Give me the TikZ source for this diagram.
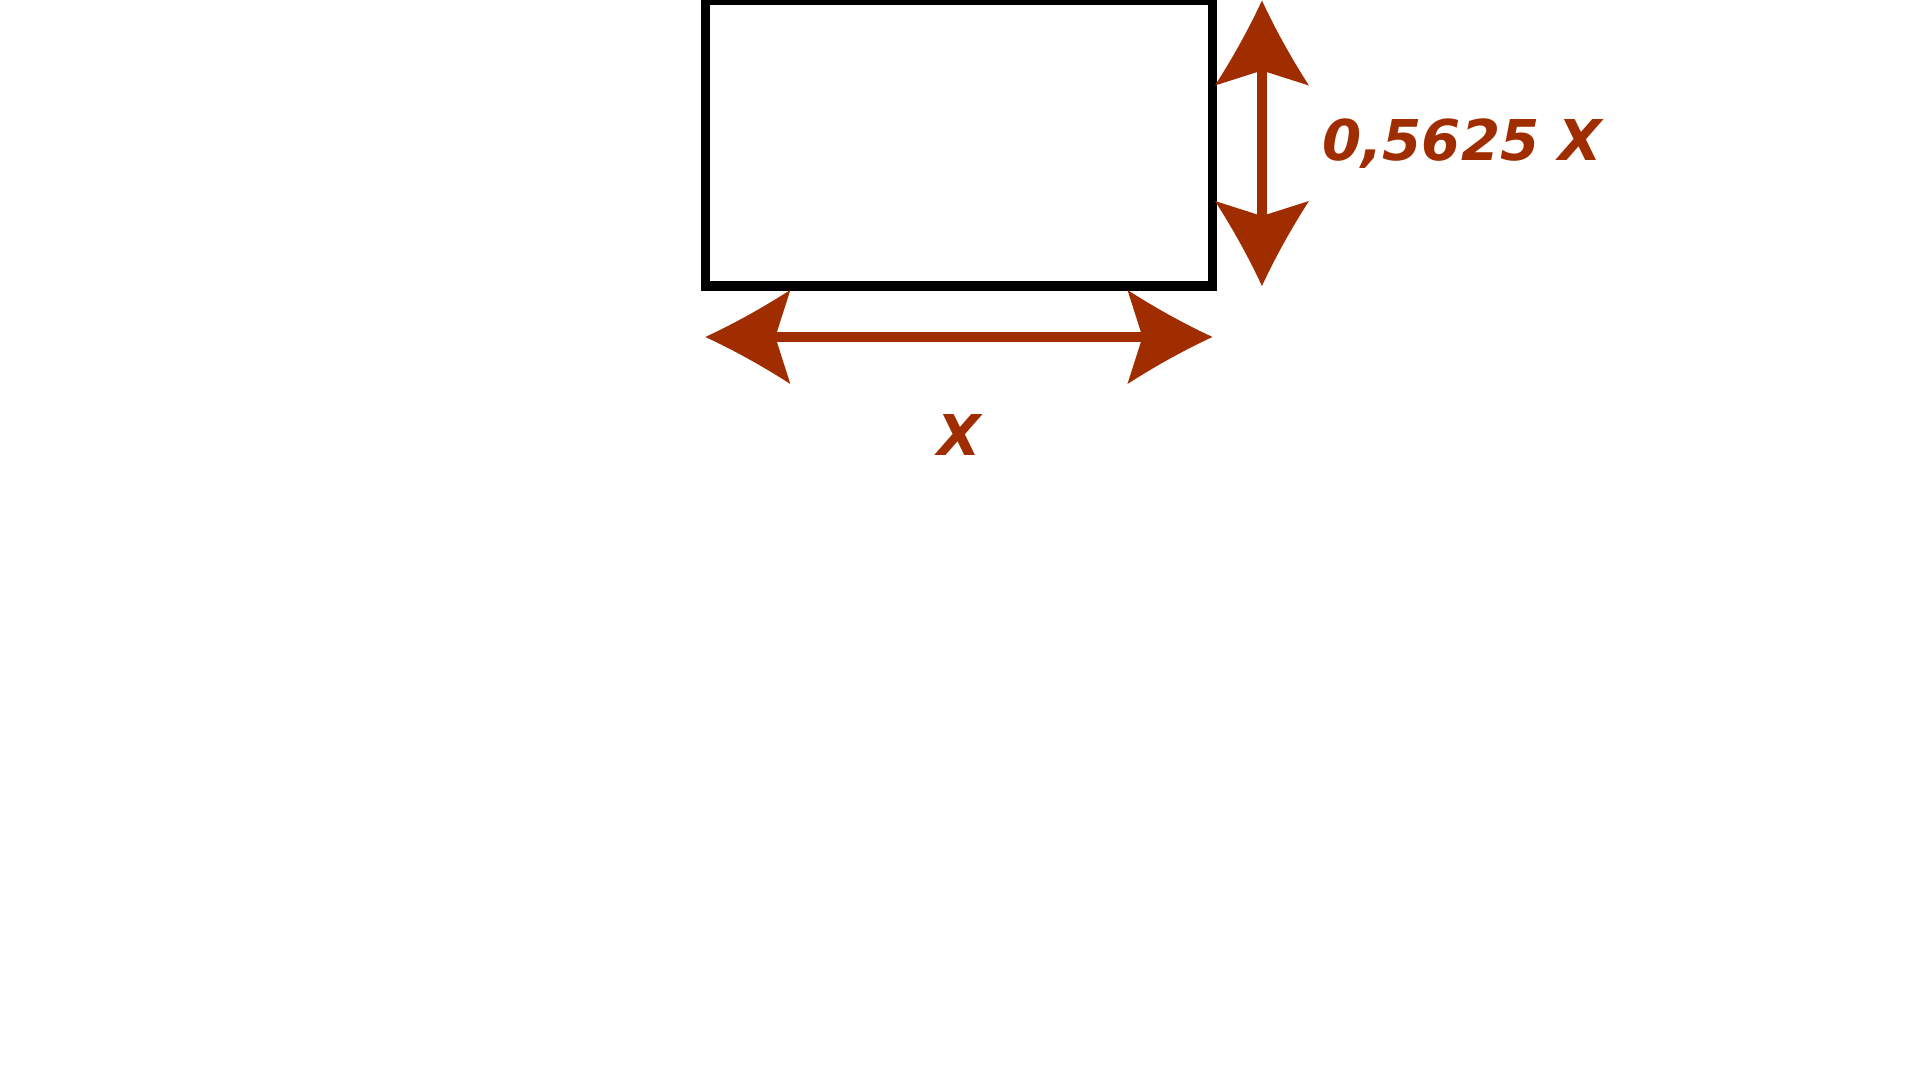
\documentclass[tikz,border=0pt]{standalone}
\usepackage{fontspec}
\setmainfont{DejaVu Sans}
\usetikzlibrary{arrows.meta}

\definecolor{rust}{RGB}{160,45,0}

% flared head with curved flanks
\pgfdeclarearrow{
  name = Flare,
  setup code = {
    \pgfarrowssettipend{0pt}
    \pgfarrowssetlineend{-1.3cm}
    \pgfarrowssetvisualbackend{-1.4cm}
    \pgfarrowssetbackend{-1.7cm}
    \pgfarrowsupperhullpoint{0pt}{0pt}
    \pgfarrowsupperhullpoint{-1.7cm}{0.94cm}
  },
  drawing code = {
    \pgfpathmoveto{\pgfpointorigin}
    \pgfpathquadraticcurveto{\pgfpoint{-0.85cm}{0.395cm}}{\pgfpoint{-1.7cm}{0.94cm}}
    \pgfpathlineto{\pgfpoint{-1.4cm}{0pt}}
    \pgfpathlineto{\pgfpoint{-1.7cm}{-0.94cm}}
    \pgfpathquadraticcurveto{\pgfpoint{-0.85cm}{-0.395cm}}{\pgfpointorigin}
    \pgfpathclose
    \pgfusepathqfill
  }
}

\begin{document}
\begin{tikzpicture}[x=0.02cm,y=-0.02cm,
  screenbox/.style={draw=black,line width=0.19cm,inner sep=0pt,outer sep=0pt,
    minimum width=10.144cm,minimum height=5.71cm},
  dimarrow/.style={draw=rust,line width=0.19cm,{Flare}-{Flare}},
  dimlabel/.style={text=rust,font=\fontsize{32}{32}\selectfont\bfseries\itshape,inner sep=0pt}]
  \useasboundingbox[fill=white] (0,0) rectangle (1919,1080);

  \node[screenbox] (screen) at (958.9,143.25) {};

  \draw[dimarrow] ([yshift=-1.02cm]screen.south west) -- ([yshift=-1.02cm]screen.south east); % width
  \draw[dimarrow] ([xshift=0.99cm]screen.north east) -- ([xshift=0.99cm]screen.south east); % height

  \node[dimlabel,anchor=base] (wlabel) at (959,455) {X};
  \node[dimlabel,anchor=base west] (hlabel) at (1322,160) {0,5625 X};
\end{tikzpicture}
\end{document}
